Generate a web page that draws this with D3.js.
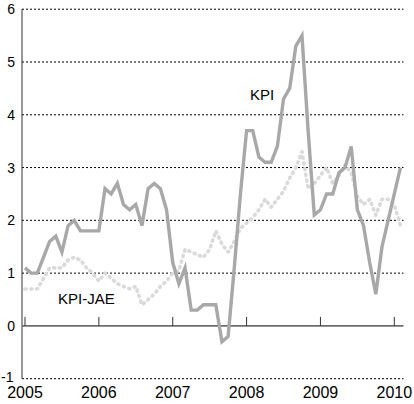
<!DOCTYPE html>
<html lang="en">
<head>
    <meta charset="UTF-8">
    <script src="https://cdn.jsdelivr.net/npm/d3@7"></script>
    <title>KPI och KPI-JAE</title>
    <style>
        body { margin: 0; background: white; }
        text { font-family: "Liberation Sans", Arial, sans-serif; fill: black; }
    </style>
</head>
<body>
    <div id="chart"></div>

    <script>
        // monthly values, Jan 2005 .. Feb 2010
        const startYear = 2005;
        const kpi = [
            1.1, 1.0, 1.0, 1.3, 1.6, 1.7, 1.4, 1.9, 2.0, 1.8, 1.8, 1.8,
            1.8, 2.6, 2.5, 2.7, 2.3, 2.2, 2.3, 1.9, 2.6, 2.7, 2.6, 2.2,
            1.2, 0.8, 1.1, 0.3, 0.3, 0.4, 0.4, 0.4, -0.3, -0.2, 1.1, 2.5,
            3.7, 3.7, 3.2, 3.1, 3.1, 3.4, 4.3, 4.5, 5.3, 5.5, 3.7, 2.1,
            2.2, 2.5, 2.5, 2.9, 3.0, 3.4, 2.2, 1.9, 1.2, 0.6, 1.5, 2.0,
            2.5, 3.0
        ];
        const kpiJae = [
            0.7, 0.7, 0.7, 0.9, 1.1, 1.1, 1.1, 1.25, 1.3, 1.25, 1.1, 1.0,
            0.85, 1.0, 0.9, 0.8, 0.75, 0.7, 0.75, 0.4, 0.5, 0.6, 0.75, 0.85,
            1.0, 1.05, 1.45, 1.4, 1.35, 1.3, 1.45, 1.8, 1.55, 1.4, 1.6, 1.85,
            1.95, 2.05, 2.2, 2.4, 2.25, 2.4, 2.55, 2.8, 3.0, 3.3, 2.6, 2.7,
            2.85, 3.0, 2.7, 2.85, 3.05, 2.9, 2.45, 2.3, 2.4, 2.1, 2.4, 2.4,
            2.3, 1.9
        ];
        const yearTicks = [2005, 2006, 2007, 2008, 2009, 2010];
        const valueTicks = [-1, 0, 1, 2, 3, 4, 5, 6];

        const width = 414, height = 404;
        const svg = d3.select("#chart").append("svg")
            .attr("width", width)
            .attr("height", height);

        const x = d3.scaleLinear().domain([2005, 2010]).range([25, 394.3]);
        const y = d3.scaleLinear().domain([-1, 6]).range([378.7, 9.2]);
        const xLeft = 22, xRight = 403.5;

        // dotted gridlines
        svg.append("g")
            .selectAll("line")
            .data(valueTicks.filter(v => v !== 0))
            .join("line")
            .attr("x1", xLeft).attr("x2", xRight)
            .attr("y1", d => y(d)).attr("y2", d => y(d))
            .attr("stroke", "#000")
            .attr("stroke-width", 1)
            .attr("stroke-dasharray", "2,2");

        // value labels (the negative one sits further left, as in the original)
        svg.append("g")
            .selectAll("text")
            .data(valueTicks)
            .join("text")
            .attr("x", d => d < 0 ? 1 : 15)
            .attr("y", d => y(d) - (d < 0 ? 2 : 0))
            .attr("dy", "0.36em")
            .attr("text-anchor", d => d < 0 ? "start" : "end")
            .style("font-size", "14px")
            .text(d => d);

        // left axis line
        svg.append("line")
            .attr("x1", xLeft).attr("x2", xLeft)
            .attr("y1", y(6)).attr("y2", y(-1))
            .attr("stroke", "#333")
            .attr("stroke-width", 1);

        // zero line and year ticks
        svg.append("line")
            .attr("x1", xLeft).attr("x2", xRight)
            .attr("y1", y(0)).attr("y2", y(0))
            .attr("stroke", "#6e6e6e")
            .attr("stroke-width", 1.6);

        svg.append("g")
            .selectAll("line")
            .data(yearTicks)
            .join("line")
            .attr("x1", d => x(d)).attr("x2", d => x(d))
            .attr("y1", y(0)).attr("y2", y(0) - 9)
            .attr("stroke", "#333")
            .attr("stroke-width", 1);

        svg.append("g")
            .selectAll("text")
            .data(yearTicks)
            .join("text")
            .attr("x", d => x(d))
            .attr("y", 398)
            .attr("text-anchor", "middle")
            .style("font-size", "16px")
            .text(d => d);

        const line = d3.line()
            .x((d, i) => x(startYear + i / 12))
            .y(d => y(d));

        svg.append("path")
            .datum(kpiJae)
            .attr("d", line)
            .attr("fill", "none")
            .attr("stroke", "#dadada")
            .attr("stroke-width", 3.6)
            .attr("stroke-linecap", "round")
            .attr("stroke-linejoin", "round")
            .attr("stroke-dasharray", "1.2,4.6");

        svg.append("path")
            .datum(kpi)
            .attr("d", line)
            .attr("fill", "none")
            .attr("stroke", "#a8a8a8")
            .attr("stroke-width", 3.4)
            .attr("stroke-linejoin", "miter");

        // series labels
        svg.append("text")
            .attr("x", 250).attr("y", 100)
            .style("font-size", "15px")
            .text("KPI");

        svg.append("text")
            .attr("x", 58).attr("y", 304)
            .style("font-size", "15px")
            .text("KPI-JAE");
    </script>
</body>
</html>
